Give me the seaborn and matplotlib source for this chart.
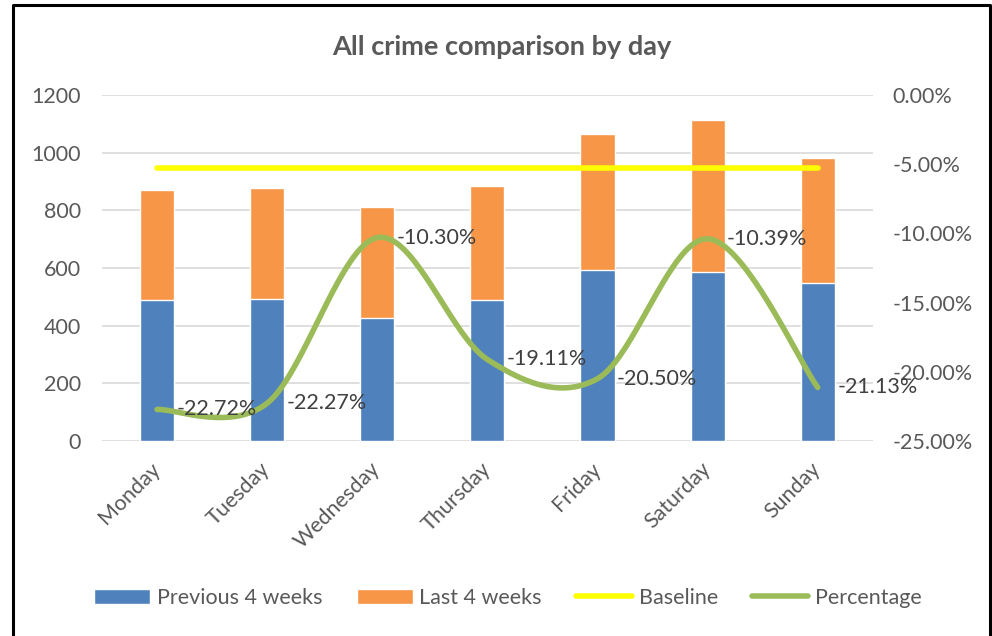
import numpy as np
import pandas as pd
import matplotlib
matplotlib.use("Agg")
import matplotlib.pyplot as plt
from matplotlib.lines import Line2D
from matplotlib.patches import Patch
from matplotlib.ticker import FuncFormatter
import seaborn as sns

days = ["Monday", "Tuesday", "Wednesday", "Thursday", "Friday", "Saturday", "Sunday"]
prev_4wk = [490, 494, 428, 490, 593, 587, 549]
last_4wk = [379, 384, 384, 396, 472, 526, 433]
pct_change = [-22.72, -22.27, -10.30, -19.11, -20.50, -10.39, -21.13]
baseline = [-5.3] * 7

BLUE = "#4F81BD"
ORANGE = "#F79646"
YELLOW = "#FFFF00"
GREEN = "#9BBB59"
GREY = "#595959"
FS = 15.5

sns.set_theme(style="white")
plt.rcParams["font.family"] = ["Lato", "DejaVu Sans"]

df = pd.DataFrame({"day": days, "prev": prev_4wk, "last": last_4wk})
df["total"] = df["prev"] + df["last"]

fig = plt.figure(figsize=(9.92, 6.36), dpi=100)
ax = fig.add_axes([0.1028, 0.3066, 0.777, 0.544])

# stacked bars: total in orange, previous drawn over it in blue
sns.barplot(data=df, x="day", y="total", color=ORANGE, saturation=1, width=0.31, ax=ax, zorder=2)
sns.barplot(data=df, x="day", y="prev", color=BLUE, saturation=1, width=0.31, ax=ax, zorder=3)

ax.set_ylim(0, 1200)
ax.set_yticks(range(0, 1201, 200))
ax.set_xlim(-0.5, 6.5)
ax.yaxis.grid(True, color="#D9D9D9", linewidth=1.2, zorder=0)
ax.set_axisbelow(True)
for s in ax.spines.values():
    s.set_visible(False)
ax.set_xlabel("")
ax.set_ylabel("")
ax.tick_params(axis="y", length=0, pad=15, labelsize=FS, labelcolor=GREY)
ax.tick_params(axis="x", length=0, pad=18, labelsize=FS, labelcolor=GREY)
plt.setp(ax.get_xticklabels(), rotation=45, ha="right", va="center", rotation_mode="anchor")


# Excel-like smoothed line (Catmull-Rom style bezier through the points)
def smooth(xv, yv, n=40):
    P = np.column_stack([xv, yv]).astype(float)
    ext = np.vstack([P[0], P, P[-1]])
    out = []
    t = np.linspace(0, 1, n)[:, None]
    for i in range(len(P) - 1):
        p0, p1 = ext[i + 1], ext[i + 2]
        c1 = p0 + (ext[i + 2] - ext[i]) / 6
        c2 = p1 - (ext[i + 3] - ext[i + 1]) / 6
        seg = (1 - t) ** 3 * p0 + 3 * (1 - t) ** 2 * t * c1 + 3 * (1 - t) * t ** 2 * c2 + t ** 3 * p1
        out.append(seg)
    return np.vstack(out)


ax2 = ax.twinx()
xs = np.arange(len(days))
ax2.plot(xs, baseline, color=YELLOW, linewidth=4, solid_capstyle="round", zorder=4)
curve = smooth(xs, pct_change)
ax2.plot(curve[:, 0], curve[:, 1], color=GREEN, linewidth=4, solid_capstyle="round", zorder=5)
for x, v in zip(xs, pct_change):
    ax2.annotate(f"{v:.2f}%", (x, v), xytext=(14, 0), textcoords="offset points",
                 ha="left", va="center", fontsize=FS, color="#404040", zorder=6)

ax2.set_ylim(-25, 0)
ax2.set_yticks(range(-25, 1, 5))
ax2.yaxis.set_major_formatter(FuncFormatter(lambda v, p: f"{v:.2f}%"))
ax2.tick_params(axis="y", length=0, pad=14, labelsize=FS, labelcolor=GREY)
ax2.grid(False)
for s in ax2.spines.values():
    s.set_visible(False)

fig.text(0.506, 0.926, "All crime comparison by day", ha="center", va="center",
         fontsize=19.5, fontweight="bold", color=GREY)

handles = [
    Patch(facecolor=BLUE, label="Previous 4 weeks"),
    Patch(facecolor=ORANGE, label="Last 4 weeks"),
    Line2D([0], [0], color=YELLOW, linewidth=4, solid_capstyle="round", label="Baseline"),
    Line2D([0], [0], color=GREEN, linewidth=4, solid_capstyle="round", label="Percentage"),
]
leg = fig.legend(handles=handles, loc="center", bbox_to_anchor=(0.512, 0.06), ncol=4,
                 frameon=False, fontsize=FS, handlelength=2.6, handleheight=0.7,
                 handletextpad=0.3, columnspacing=1.6)
for t in leg.get_texts():
    t.set_color(GREY)

# chart border
fig.add_artist(Line2D([13 / 992, 13 / 992, 990 / 992, 990 / 992], [0, 1 - 5 / 636, 1 - 5 / 636, 0],
                      transform=fig.transFigure, color="black", linewidth=2.2))

fig.savefig("out.png", dpi=100)
